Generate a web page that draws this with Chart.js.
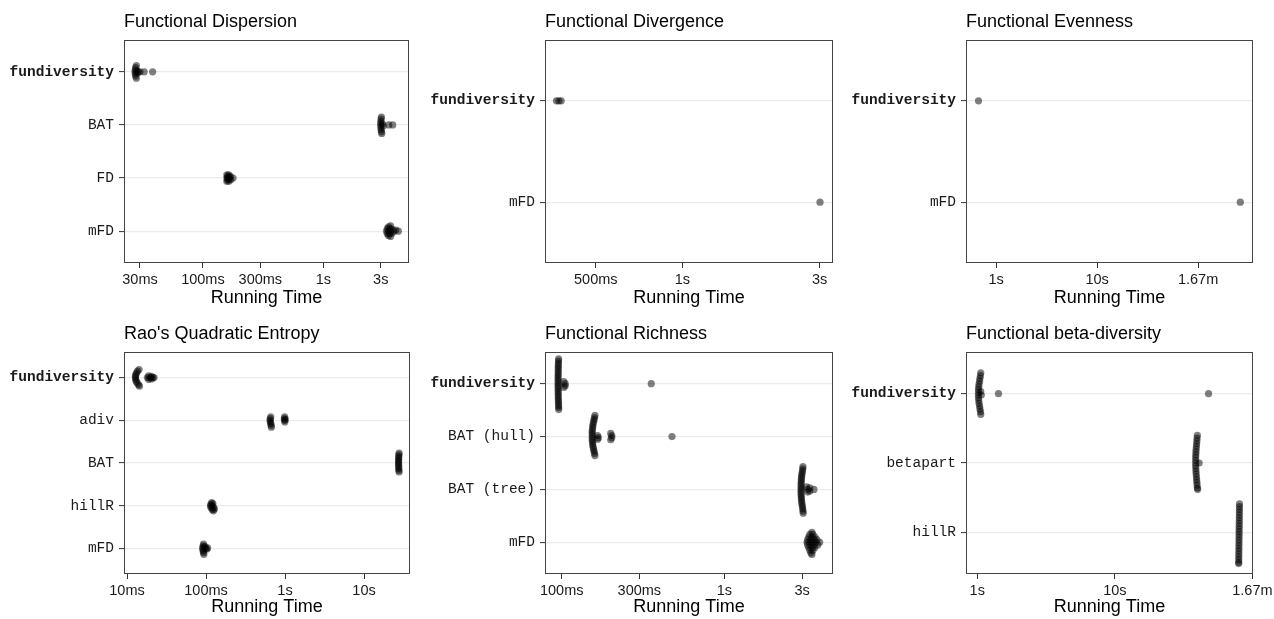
<!DOCTYPE html>
<html>
<head>
<meta charset="utf-8">
<script src="https://cdn.jsdelivr.net/npm/chart.js@4.4.1/dist/chart.umd.min.js"></script>
<style>
    html, body { margin: 0; padding: 0; background: #fff; }
    body { width: 1274px; height: 619px; position: relative; overflow: hidden; }
    .panel { position: absolute; }
</style>
</head>
<body>
<div id="root"></div>
<script>
// Functional Dispersion
const dispCats = ['fundiversity', 'BAT', 'FD', 'mFD'];
const dispTimes = [
    [0.0280, 0.0276, 0.0274, 0.0273, 0.0274, 0.0276, 0.0280, 0.0283, 0.0286, 0.0290, 0.0300, 0.0325, 0.0382],
    [3.04, 3.02, 3.01, 3.00, 3.00, 3.01, 3.02, 3.04, 3.06, 3.10, 3.15, 3.50, 3.77],
    [0.158, 0.160, 0.158, 0.160, 0.158, 0.164, 0.166, 0.165, 0.164, 0.169, 0.170, 0.178],
    [3.35, 3.40, 3.40, 3.48, 3.48, 3.48, 3.56, 3.56, 3.62, 3.62, 3.62, 3.72, 3.72, 3.85, 4.00, 4.20]
];
const dispJitter = [
    [-0.12, -0.08, -0.04, 0, 0.04, 0.08, 0.12, -0.02, 0.02, 0, 0, 0, 0],
    [-0.15, -0.11, -0.07, -0.03, 0.01, 0.05, 0.09, 0.13, 0.16, -0.02, 0.02, 0, 0],
    [-0.06, -0.03, 0, 0.03, 0.06, -0.06, -0.02, 0.02, 0.06, -0.03, 0.03, 0],
    [0, -0.05, 0.05, -0.08, 0, 0.08, -0.05, 0.05, -0.1, 0, 0.1, -0.04, 0.04, 0, -0.02, 0]
];
const dispTicks = [0.03, 0.1, 0.3, 1, 3];
const dispTickLabels = ['30ms', '100ms', '300ms', '1s', '3s'];

// Functional Divergence
const divCats = ['fundiversity', 'mFD'];
const divTimes = [[0.365, 0.372, 0.379], [3.01]];
const divJitter = [[0, 0, 0], [0]];
const divTicks = [0.5, 1, 3];
const divTickLabels = ['500ms', '1s', '3s'];

// Functional Evenness
const evenCats = ['fundiversity', 'mFD'];
const evenTimes = [[0.668], [262]];
const evenJitter = [[0], [0]];
const evenTicks = [1, 10, 100];
const evenTickLabels = ['1s', '10s', '1.67m'];

// Rao's Quadratic Entropy
const raoCats = ['fundiversity', 'adiv', 'BAT', 'hillR', 'mFD'];
const raoTimes = [
    [0.0142, 0.0136, 0.0132, 0.0129, 0.0128, 0.0128, 0.0129, 0.0131, 0.0135, 0.0140, 0.0144,
     0.0181, 0.0188, 0.0188, 0.0196, 0.0204, 0.0204, 0.0212, 0.0220],
    [0.660, 0.650, 0.648, 0.652, 0.660, 0.668, 0.672, 0.990, 0.980, 0.985, 0.995, 1.010],
    [27.8, 27.6, 27.5, 27.5, 27.4, 27.4, 27.4, 27.4, 27.5, 27.5, 27.6, 27.8],
    [0.118, 0.115, 0.114, 0.116, 0.120, 0.124, 0.122, 0.120, 0.125, 0.128],
    [0.093, 0.092, 0.091, 0.091, 0.092, 0.093, 0.094, 0.097, 0.099, 0.102, 0.105]
];
const raoJitter = [
    [-0.19, -0.15, -0.11, -0.07, -0.03, 0.01, 0.05, 0.09, 0.13, 0.17, 0.20,
     0, -0.04, 0.04, 0, -0.03, 0.03, 0, 0],
    [-0.08, -0.04, 0, 0.04, 0.08, 0.12, 0.16, -0.08, -0.04, 0, 0.04, -0.02],
    [-0.23, -0.19, -0.15, -0.11, -0.07, -0.03, 0.01, 0.05, 0.09, 0.13, 0.17, 0.21],
    [-0.07, -0.03, 0.01, 0.05, 0.09, 0.12, -0.05, 0, 0.04, 0.08],
    [-0.1, -0.06, -0.02, 0.02, 0.06, 0.1, 0.14, -0.04, 0, 0.02, -0.01]
];
const raoTicks = [0.01, 0.1, 1, 10];
const raoTickLabels = ['10ms', '100ms', '1s', '10s'];

// Functional Richness
const richCats = ['fundiversity', 'BAT (hull)', 'BAT (tree)', 'mFD'];
const richTimes = [
    [0.0957, 0.0955, 0.0954, 0.0953, 0.0952, 0.0952, 0.0951, 0.0951, 0.0950, 0.0950, 0.0950, 0.0950, 0.0950,
     0.0950, 0.0950, 0.0951, 0.0951, 0.0952, 0.0952, 0.0953, 0.0954, 0.0955, 0.0956, 0.0957, 0.0958,
     0.103, 0.105, 0.105, 0.103, 0.355],
    [0.160, 0.159, 0.158, 0.157, 0.156, 0.155, 0.155, 0.154, 0.154, 0.154, 0.154, 0.154, 0.154, 0.155,
     0.155, 0.156, 0.157, 0.158, 0.159, 0.160,
     0.166, 0.168, 0.166, 0.200, 0.203, 0.203, 0.200, 0.476],
    [3.04, 3.03, 3.02, 3.00, 2.99, 2.98, 2.97, 2.97, 2.96, 2.96, 2.96, 2.96, 2.96, 2.96, 2.97, 2.97, 2.98,
     2.99, 3.00, 3.02, 3.03, 3.04, 3.05,
     3.20, 3.25, 3.25, 3.35, 3.35, 3.55],
    [3.45, 3.35, 3.50, 3.30, 3.45, 3.60, 3.25, 3.40, 3.55, 3.70, 3.22, 3.35, 3.50, 3.65, 3.85,
     3.25, 3.40, 3.55, 3.75, 3.30, 3.45, 3.60, 3.35, 3.50, 3.40, 3.45]
];
const richJitter = [
    [-0.47, -0.43, -0.39, -0.35, -0.31, -0.27, -0.23, -0.19, -0.15, -0.11, -0.07, -0.03, 0.01,
     0.05, 0.09, 0.13, 0.17, 0.21, 0.25, 0.29, 0.33, 0.37, 0.41, 0.45, 0.49,
     -0.04, 0, 0.04, 0.07, 0],
    [-0.40, -0.36, -0.32, -0.28, -0.24, -0.20, -0.16, -0.12, -0.08, -0.04, 0, 0.04, 0.08, 0.12,
     0.16, 0.20, 0.24, 0.28, 0.32, 0.36,
     -0.02, 0.02, 0.05, -0.06, -0.02, 0.02, 0.06, 0],
    [-0.43, -0.39, -0.35, -0.31, -0.27, -0.23, -0.19, -0.15, -0.11, -0.07, -0.03, 0.01, 0.05, 0.09,
     0.13, 0.17, 0.21, 0.25, 0.29, 0.33, 0.37, 0.41, 0.45,
     -0.05, 0, 0.05, -0.03, 0.03, 0],
    [-0.19, -0.15, -0.15, -0.1, -0.1, -0.1, -0.05, -0.05, -0.05, -0.05, 0, 0, 0, 0, 0,
     0.05, 0.05, 0.05, 0.05, 0.1, 0.1, 0.1, 0.15, 0.15, 0.2, 0.23]
];
const richTicks = [0.1, 0.3, 1, 3];
const richTickLabels = ['100ms', '300ms', '1s', '3s'];

// Functional beta-diversity
const betaCats = ['fundiversity', 'betapart', 'hillR'];
const betaTimes = [
    [1.06, 1.055, 1.045, 1.04, 1.03, 1.025, 1.02, 1.02, 1.02, 1.02, 1.025, 1.03, 1.04, 1.045, 1.055, 1.06,
     1.06, 1.07, 1.426, 48.0],
    [39.8, 39.6, 39.5, 39.3, 39.2, 39.0, 38.9, 38.8, 38.7, 38.7, 38.7, 38.7, 38.8, 38.9, 39.0, 39.2,
     39.3, 39.5, 39.6, 39.8, 40.0, 41.0],
    [80.6, 80.5, 80.5, 80.4, 80.4, 80.3, 80.3, 80.2, 80.2, 80.1, 80.1, 80.0, 80.0, 79.9, 79.9, 79.8,
     79.8, 79.7, 79.7, 79.6, 79.6, 79.5, 79.5]
];
const betaJitter = [
    [-0.30, -0.26, -0.22, -0.18, -0.14, -0.10, -0.06, -0.02, 0.02, 0.06, 0.10, 0.14, 0.18, 0.22, 0.26, 0.30,
     -0.03, 0.02, 0, 0],
    [-0.40, -0.36, -0.32, -0.28, -0.24, -0.20, -0.16, -0.12, -0.08, -0.04, 0, 0.04, 0.08, 0.12, 0.16, 0.20,
     0.24, 0.28, 0.32, 0.36, 0.38, 0],
    [-0.41, -0.37, -0.33, -0.29, -0.25, -0.21, -0.17, -0.13, -0.09, -0.05, -0.01, 0.03, 0.07, 0.11, 0.15,
     0.19, 0.23, 0.27, 0.31, 0.35, 0.39, 0.43, 0.45]
];
const betaTicks = [1, 10, 100];
const betaTickLabels = ['1s', '10s', '1.67m'];

const SANS = '"Liberation Sans", Arial, Helvetica, sans-serif';
const MONO = '"Liberation Mono", "Courier New", monospace';

// draws the panel box and the left-aligned title
const panelFrame = {
    id: 'panelFrame',
    afterDatasetsDraw(chart) {
        const { ctx, chartArea: a } = chart;
        ctx.save();
        ctx.strokeStyle = '#444';
        ctx.lineWidth = 1;
        ctx.strokeRect(a.left + 0.5, a.top + 0.5, a.right - a.left - 1, a.bottom - a.top - 1);
        ctx.restore();
    },
    afterDraw(chart, args, opts) {
        const { ctx, chartArea: a } = chart;
        ctx.save();
        ctx.fillStyle = '#000';
        ctx.font = '18px ' + SANS;
        ctx.textAlign = 'left';
        ctx.textBaseline = 'alphabetic';
        ctx.fillText(opts.text, a.left, a.top - 13);
        ctx.restore();
    }
};

function makePanel(title, cats, times, jitter, ticks, tickLabels, xMin, xMax, box, plot) {
    const div = document.createElement('div');
    div.className = 'panel';
    Object.assign(div.style, {
        left: box.left + 'px', top: box.top + 'px',
        width: box.w + 'px', height: box.h + 'px'
    });
    const canvas = document.createElement('canvas');
    div.appendChild(canvas);
    document.getElementById('root').appendChild(div);

    const points = [];
    cats.forEach((c, i) => {
        times[i].forEach((t, j) => points.push({ x: t, y: i + jitter[i][j] }));
    });

    const yWidth = plot.l - box.left;
    const xHeight = box.top + box.h - plot.b;

    return new Chart(canvas, {
        type: 'scatter',
        data: {
            datasets: [{
                data: points,
                backgroundColor: 'rgba(0, 0, 0, 0.5)',
                borderWidth: 0,
                pointRadius: 3.6,
                pointHoverRadius: 3.6
            }]
        },
        options: {
            responsive: true,
            maintainAspectRatio: false,
            animation: false,
            events: [],
            layout: {
                padding: { left: 0, top: plot.t - box.top, right: box.left + box.w - plot.r, bottom: 0 }
            },
            plugins: {
                legend: { display: false },
                tooltip: { enabled: false },
                panelFrame: { text: title }
            },
            scales: {
                x: {
                    type: 'logarithmic',
                    min: xMin,
                    max: xMax,
                    bounds: 'data',
                    afterBuildTicks: s => { s.ticks = ticks.map(v => ({ value: v })); },
                    afterFit: s => { s.height = xHeight; },
                    ticks: {
                        callback: (v, i) => tickLabels[i],
                        font: { family: SANS, size: 14.5 },
                        color: '#1a1a1a',
                        padding: 3,
                        maxRotation: 0,
                        autoSkip: false
                    },
                    grid: { drawOnChartArea: false, tickLength: 5, tickColor: '#333', tickWidth: 1 },
                    border: { display: false },
                    title: {
                        display: true,
                        text: 'Running Time',
                        font: { family: SANS, size: 18 },
                        color: '#000',
                        padding: { top: 0, bottom: 1 }
                    }
                },
                y: {
                    type: 'linear',
                    reverse: true,
                    min: -0.6,
                    max: cats.length - 0.4,
                    bounds: 'data',
                    afterBuildTicks: s => { s.ticks = cats.map((c, i) => ({ value: i })); },
                    afterFit: s => { s.width = yWidth; },
                    ticks: {
                        callback: v => cats[v],
                        font: c => ({
                            family: MONO,
                            size: 14.5,
                            weight: c.tick && c.tick.value === 0 ? 'bold' : 'normal'
                        }),
                        color: '#1a1a1a',
                        padding: 5,
                        autoSkip: false
                    },
                    grid: { color: '#ebebeb', lineWidth: 1.2, tickColor: '#333', tickLength: 5, tickWidth: 1 },
                    border: { display: false }
                }
            }
        },
        plugins: [panelFrame]
    });
}

makePanel('Functional Dispersion', dispCats, dispTimes, dispJitter, dispTicks, dispTickLabels,
    0.0221, 5.15, { left: 0, top: 0, w: 424, h: 310 }, { l: 124, t: 40, r: 409, b: 263 });
makePanel('Functional Divergence', divCats, divTimes, divJitter, divTicks, divTickLabels,
    0.333, 3.34, { left: 424, top: 0, w: 425, h: 310 }, { l: 545, t: 40, r: 833, b: 263 });
makePanel('Functional Evenness', evenCats, evenTimes, evenJitter, evenTicks, evenTickLabels,
    0.502, 350, { left: 849, top: 0, w: 425, h: 310 }, { l: 966, t: 40, r: 1253, b: 263 });
makePanel("Rao's Quadratic Entropy", raoCats, raoTimes, raoJitter, raoTicks, raoTickLabels,
    0.00916, 38.2, { left: 0, top: 310, w: 424, h: 309 }, { l: 124, t: 352, r: 410, b: 574 });
makePanel('Functional Richness', richCats, richTimes, richJitter, richTicks, richTickLabels,
    0.0789, 4.65, { left: 424, top: 310, w: 425, h: 309 }, { l: 545, t: 352, r: 833, b: 574 });
makePanel('Functional beta-diversity', betaCats, betaTimes, betaJitter, betaTicks, betaTickLabels,
    0.828, 101, { left: 849, top: 310, w: 428, h: 309 }, { l: 966, t: 352, r: 1253, b: 574 });
</script>
</body>
</html>
